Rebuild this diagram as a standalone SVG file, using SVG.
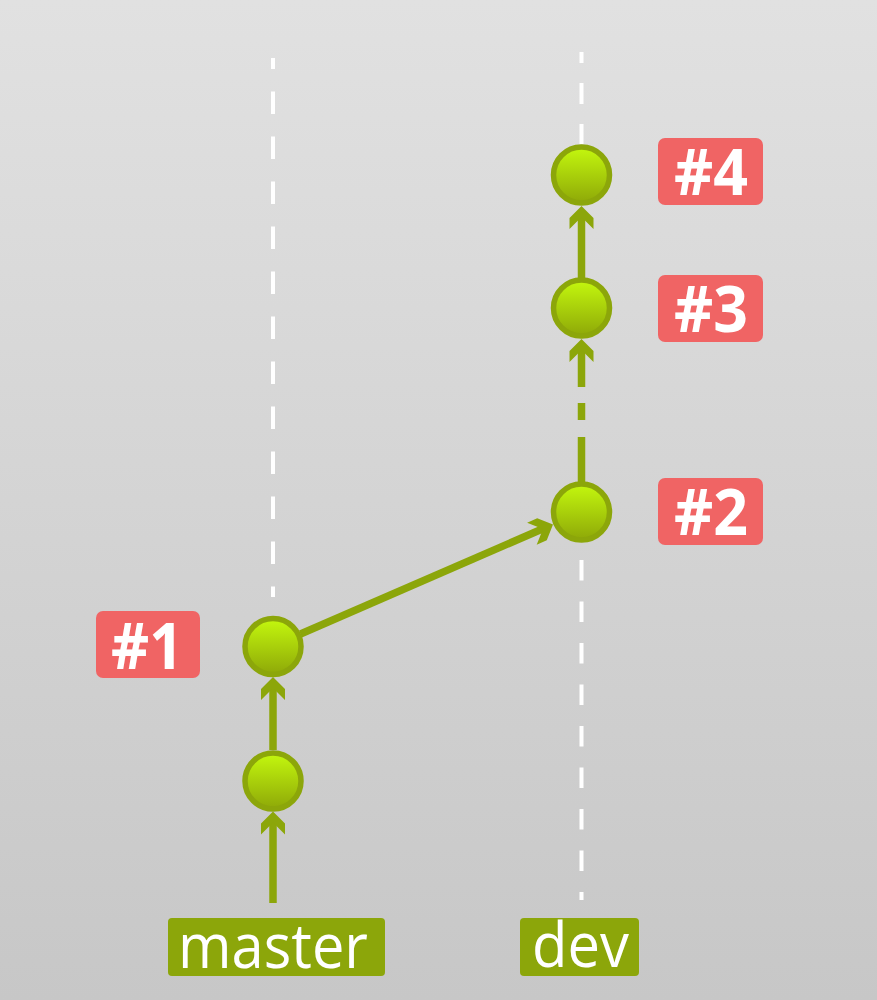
<svg xmlns="http://www.w3.org/2000/svg" xmlns:xlink="http://www.w3.org/1999/xlink" width="877" height="1000" viewBox="0 0 877 1000">
<style>
.guide{stroke:#ffffff;stroke-width:4;fill:none}
.shaft{stroke:#8ca60a;stroke-width:7.5;fill:none}
.head{fill:#8ca60a}
.node{fill:url(#nodeFill);stroke:#8ca60a;stroke-width:5.5}
.tag{fill:#f06464}
.tagText{font-family:"Open Sans","DejaVu Sans",sans-serif;font-weight:bold;font-size:64px;fill:#ffffff;text-anchor:middle}
.branch{fill:#8ca60a}
.branchText{font-family:"Open Sans","DejaVu Sans",sans-serif;font-size:63px;fill:#ffffff;text-anchor:middle}
</style>
<defs>
<linearGradient id="bg" x1="0" y1="0" x2="0" y2="1">
<stop offset="0" stop-color="#e1e1e1"/>
<stop offset="1" stop-color="#c7c7c7"/>
</linearGradient>
<linearGradient id="nodeFill" x1="0" y1="0" x2="0" y2="1">
<stop offset="0" stop-color="#c4f80e"/>
<stop offset="1" stop-color="#8ea808"/>
</linearGradient>
<path id="chev" d="M0,0 L12,12 L12,23 L0,11 L-12,23 L-12,12 Z"/>
</defs>
<rect x="0" y="0" width="877" height="1000" fill="url(#bg)"/>
<g id="guides">
<line class="guide" x1="273" y1="58" x2="273" y2="597" stroke-dasharray="22.5 22.5" stroke-dashoffset="11.5"/>
<line class="guide" x1="581.5" y1="52" x2="581.5" y2="144" stroke-dasharray="21 20" stroke-dashoffset="10"/>
<line class="guide" x1="581.5" y1="560" x2="581.5" y2="900" stroke-dasharray="20.5 21"/>
</g>
<g id="connectors">
<line class="shaft" x1="273" y1="903" x2="273" y2="816"/>
<use xlink:href="#chev" class="head" transform="translate(273,811.5)"/>
<line class="shaft" x1="273" y1="750" x2="273" y2="682"/>
<use xlink:href="#chev" class="head" transform="translate(273,677)"/>
<line class="shaft" x1="300.5" y1="634" x2="548" y2="526.5"/>
<use xlink:href="#chev" class="head" transform="translate(553,524.5) rotate(66.5)"/>
<line class="shaft" x1="581.5" y1="482" x2="581.5" y2="437"/>
<line class="shaft" x1="581.5" y1="420" x2="581.5" y2="403"/>
<line class="shaft" x1="581.5" y1="387" x2="581.5" y2="344"/>
<use xlink:href="#chev" class="head" transform="translate(581.5,339)"/>
<line class="shaft" x1="581.5" y1="278" x2="581.5" y2="211"/>
<use xlink:href="#chev" class="head" transform="translate(581.5,206)"/>
</g>
<g id="c0"><circle class="node" cx="273" cy="781" r="28"/></g>
<g id="c1"><circle class="node" cx="273" cy="646.5" r="28"/></g>
<g id="c2"><circle class="node" cx="581.5" cy="512" r="28"/></g>
<g id="c3"><circle class="node" cx="581.5" cy="308" r="28"/></g>
<g id="c4"><circle class="node" cx="581.5" cy="175" r="28"/></g>
<g id="tag1"><rect class="tag" x="96" y="611" width="104" height="67" rx="7"/><text class="tagText" x="147" y="669" textLength="72" lengthAdjust="spacingAndGlyphs">#1</text></g>
<g id="tag2"><rect class="tag" x="658" y="478" width="105" height="67" rx="7"/><text class="tagText" x="711" y="535" textLength="74" lengthAdjust="spacingAndGlyphs">#2</text></g>
<g id="tag3"><rect class="tag" x="658" y="275" width="105" height="67" rx="7"/><text class="tagText" x="711" y="332" textLength="74" lengthAdjust="spacingAndGlyphs">#3</text></g>
<g id="tag4"><rect class="tag" x="658" y="138" width="105" height="67" rx="7"/><text class="tagText" x="711" y="195" textLength="74" lengthAdjust="spacingAndGlyphs">#4</text></g>
<g id="master"><rect class="branch" x="168" y="918" width="217" height="58" rx="4"/><text class="branchText" x="273" y="968" textLength="190" lengthAdjust="spacingAndGlyphs">master</text></g>
<g id="dev"><rect class="branch" x="520" y="918" width="119" height="58" rx="4"/><text class="branchText" x="580.5" y="967" textLength="97" lengthAdjust="spacingAndGlyphs">dev</text></g>
</svg>
